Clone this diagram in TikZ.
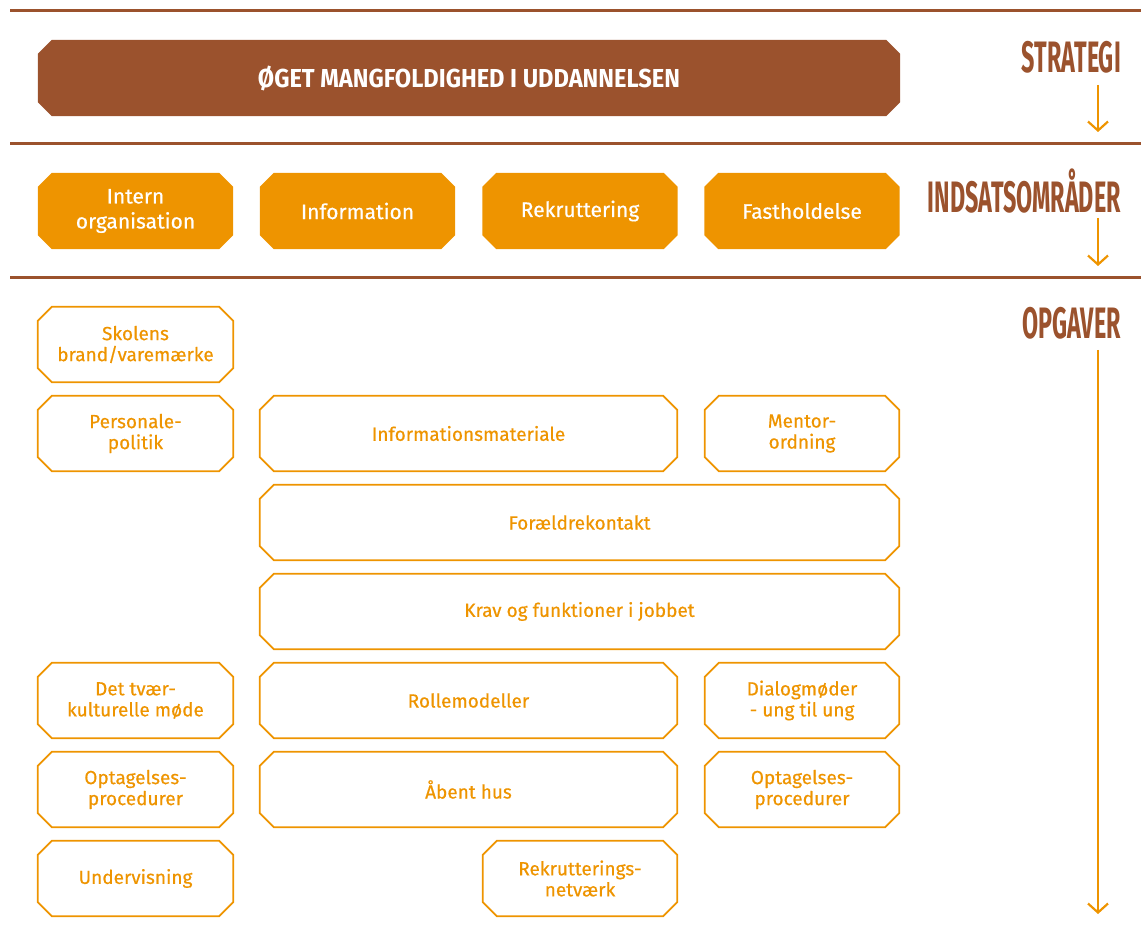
\documentclass[tikz,border=0pt]{standalone}
\usepackage{fontspec}
\setmainfont{Fira Sans}[FakeBold=0.5]
\newfontfamily\condfont[FakeStretch=0.53]{Fira Sans}
\newfontfamily\stratfont[FakeStretch=0.91]{Fira Sans}
\usetikzlibrary{arrows.meta,backgrounds}
\definecolor{brown}{HTML}{9B522D}
\definecolor{orng}{HTML}{EE9400}
\newcommand\chamfer[2]{\draw[#1] ([xshift=14pt]#2.north west) -- ([xshift=-14pt]#2.north east) -- ([yshift=-14pt]#2.north east) -- ([yshift=14pt]#2.south east) -- ([xshift=-14pt]#2.south east) -- ([xshift=14pt]#2.south west) -- ([yshift=14pt]#2.south west) -- ([yshift=-14pt]#2.north west) -- cycle;}
\tikzset{
  chbox/.style={rectangle, inner sep=0pt, minimum height=75pt, align=center},
  stratbox/.style={chbox, text=white, minimum height=76pt, font=\stratfont\fontsize{26}{28}\selectfont\bfseries},
  areabox/.style={chbox, text=white, minimum height=76pt, font=\fontsize{21}{25}\selectfont},
  taskbox/.style={chbox, text=orng, font=\fontsize{19}{21}\selectfont},
  stratfill/.style={fill=brown, draw=none},
  areafill/.style={fill=orng, draw=none},
  taskline/.style={draw=orng, line width=1.8pt, line join=miter},
  rule/.style={brown, line width=3pt},
  head/.style={text=brown, anchor=east, inner sep=0pt, font=\condfont\fontsize{44}{44}\selectfont\bfseries},
  flow/.style={orng, line width=2.2pt, -{Straight Barb[length=9pt,width=20pt,line width=2.2pt]}}
}
\begin{document}
\begin{tikzpicture}[x=1pt,y=-1pt]
\useasboundingbox (0,0) rectangle (1141,941);
\draw[rule] (10,11) -- (1141,11);
\draw[rule] (10,144) -- (1141,144);
\draw[rule] (10,278) -- (1141,278);

\node[stratbox, minimum width=862pt] (strat) at (469,78) {ØGET MANGFOLDIGHED I UDDANNELSEN};

\node[areabox, minimum width=195pt] (a1) at (135.5,211) {Intern\\organisation};
\node[areabox, minimum width=195pt] (a2) at (357.5,211) {Information};
\node[areabox, minimum width=195pt] (a3) at (580,211) {Rekruttering};
\node[areabox, minimum width=195pt] (a4) at (802,211) {Fastholdelse};

\node[taskbox, minimum width=195pt] (t1) at (135.5,344.5) {Skolens\\brand/varemærke};
\node[taskbox, minimum width=195pt] (t2) at (135.5,433.5) {Personale-\\politik};
\node[taskbox, minimum width=417pt] (t3) at (468.5,433.5) {Informationsmateriale};
\node[taskbox, minimum width=194pt] (t4) at (802,433.5) {Mentor-\\ordning};
\node[taskbox, minimum width=639pt] (t5) at (579.5,522.5) {Forældrekontakt};
\node[taskbox, minimum width=639pt] (t6) at (579.5,611.5) {Krav og funktioner i jobbet};
\node[taskbox, minimum width=195pt] (t7) at (135.5,700.5) {Det tvær-\\kulturelle møde};
\node[taskbox, minimum width=417pt] (t8) at (468.5,700.5) {Rollemodeller};
\node[taskbox, minimum width=194pt] (t9) at (802,700.5) {Dialogmøder\\- ung til ung};
\node[taskbox, minimum width=195pt] (t10) at (135.5,789.5) {Optagelses-\\procedurer};
\node[taskbox, minimum width=417pt] (t11) at (468.5,789.5) {Åbent hus};
\node[taskbox, minimum width=194pt] (t12) at (802,789.5) {Optagelses-\\procedurer};
\node[taskbox, minimum width=195pt] (t13) at (135.5,878.5) {Undervisning};
\node[taskbox, minimum width=194pt] (t14) at (580,878.5) {Rekrutterings-\\netværk};

\begin{scope}[on background layer]
\chamfer{stratfill}{strat}
\foreach \n in {a1,a2,a3,a4} {\chamfer{areafill}{\n}}
\foreach \n in {t1,t2,t3,t4,t5,t6,t7,t8,t9,t10,t11,t12,t13,t14} {\chamfer{taskline}{\n}}
\end{scope}

\node[head] (h1) at (1121,57) {STRATEGI};
\node[head] (h2) at (1121,191) {INDSATSOMRÅDER};
\node[head] (h3) at (1121,323) {OPGAVER};

\coordinate (s1) at (1098,85);  \coordinate (e1) at (1098,132);
\coordinate (s2) at (1098,218); \coordinate (e2) at (1098,266);
\coordinate (s3) at (1098,350); \coordinate (e3) at (1098,914);
\draw[flow] (s1) -- (e1);
\draw[flow] (s2) -- (e2);
\draw[flow] (s3) -- (e3);
\end{tikzpicture}
\end{document}
